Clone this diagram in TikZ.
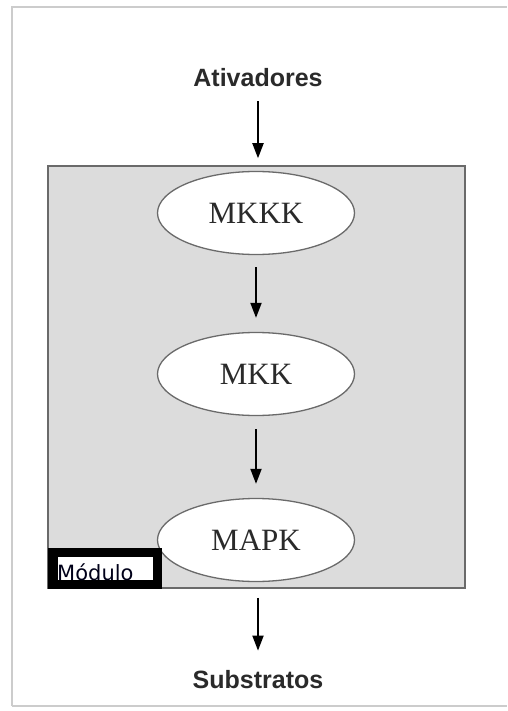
\documentclass[tikz,border=0pt]{standalone}
\usepackage{fontspec}
\setmainfont{Liberation Serif}
\newfontfamily\labfont{Liberation Sans}
\newfontfamily\modfont{DejaVu Sans}
\usetikzlibrary{shapes.geometric,arrows.meta}
\definecolor{boxgray}{HTML}{DCDCDC}
\definecolor{boxedge}{HTML}{6A6A6A}
\definecolor{txtgray}{HTML}{2A2A2A}
\definecolor{framegray}{HTML}{CCCCCC}
\tikzset{
  kinase/.style={ellipse, draw=boxedge, line width=1.3pt, fill=white,
    minimum width=197pt, minimum height=83pt, inner sep=0pt,
    font=\fontsize{31}{34}\selectfont, text=txtgray},
  lab/.style={font=\labfont\bfseries\fontsize{25}{28}\selectfont, text=txtgray, inner sep=0pt},
  arr/.style={line width=1.8pt, -{Triangle[length=15pt,width=11pt]}},
}
\begin{document}
\begin{tikzpicture}[x=1pt,y=-1pt]
\useasboundingbox (0,0) rectangle (507,711);
\fill[white] (0,0) rectangle (507,711);
% outer frame
\draw[framegray, line width=1.6pt] (12,706) -- (12,7) -- (507,7);
\draw[framegray, line width=1.6pt] (12,706) -- (507,706);
% module box
\node[draw=boxedge, line width=1.5pt, fill=boxgray, minimum width=417pt, minimum height=422pt, inner sep=0pt] (box) at (256.5,377) {};
% labels
\node[lab] (at) at (258,78) {Ativadores};
\node[lab] (sub) at (258,680) {Substratos};
% kinases
\node[kinase] (k3) at (256,213) {MKKK};
\node[kinase] (k2) at (256,374) {MKK};
\node[kinase] (k1) at (256,540) {MAPK};
% module label
\node[fill=black, minimum width=114pt, minimum height=41pt, inner sep=0pt] (modbox) at (105,568.5) {};
\node[fill=white, minimum width=95pt, minimum height=23pt, inner sep=0pt] (modin) at (105.5,568.5) {};
\node[anchor=base west, inner sep=0pt, font=\modfont\fontsize{21}{23}\selectfont, text=black!90!blue] (modtxt) at (57,580) {Módulo};
% arrows
\draw[arr, shorten <=14pt, shorten >=7pt] (at.south) -- (at.south |- box.north);
\draw[arr, shorten <=12pt, shorten >=14pt] (k3) -- (k2);
\draw[arr, shorten <=13pt, shorten >=14pt] (k2) -- (k1);
\draw[arr, shorten <=9pt, shorten >=20pt] (box.south -| sub) -- (sub.north);
\end{tikzpicture}
\end{document}
